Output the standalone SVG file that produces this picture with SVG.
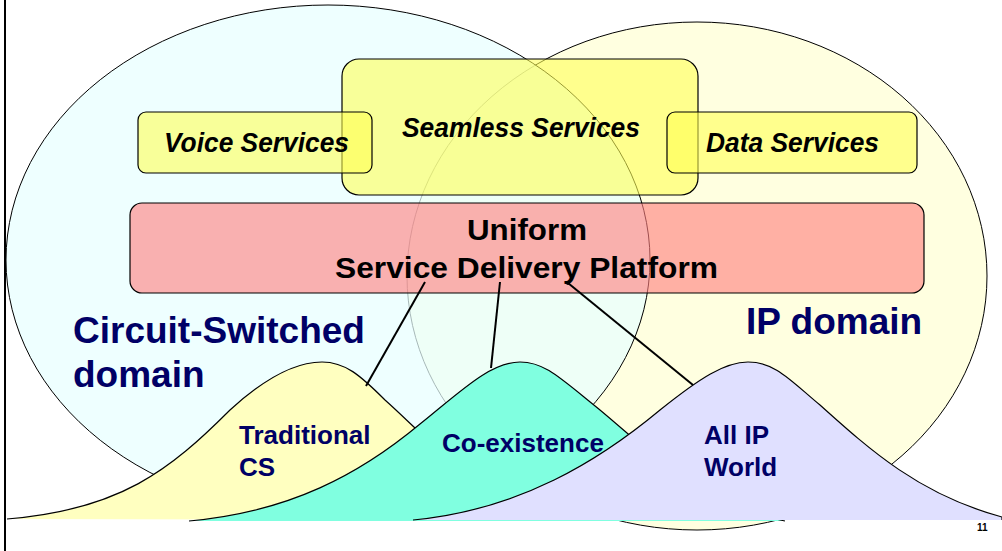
<svg xmlns="http://www.w3.org/2000/svg" width="1002" height="551" viewBox="0 0 1002 551">
  <style>
    .svc { fill: #FFFF55; fill-opacity: 0.6; stroke: #000; stroke-width: 1.2; }
    .svct { font-family: "Liberation Sans", Arial, sans-serif; font-size: 27.5px; font-weight: bold; font-style: italic; fill: #000; }
    .sdpt { font-family: "Liberation Sans", Arial, sans-serif; font-size: 29px; font-weight: bold; fill: #000; }
    .big { font-family: "Liberation Sans", Arial, sans-serif; font-size: 37px; font-weight: bold; fill: #000066; }
    .mt { font-family: "Liberation Sans", Arial, sans-serif; font-size: 26px; font-weight: bold; fill: #000066; }
    .mtn { stroke: #000; stroke-width: 1.2; }
    .conn { stroke: #000; stroke-width: 2; fill: none; }
  </style>
  <rect x="0" y="0" width="1002" height="551" fill="#FFFFFF"/>
  <line x1="5" y1="0" x2="5" y2="551" stroke="#000" stroke-width="2"/>

  <g id="ip-domain">
    <ellipse cx="697" cy="276" rx="290" ry="254" fill="#FFFFE0" stroke="#000" stroke-width="1"/>
    <text class="big" x="746" y="334">IP domain</text>
  </g>
  <g id="cs-domain">
    <ellipse cx="328" cy="260" rx="322" ry="255" fill="#E8FFFF" fill-opacity="0.72" stroke="#000" stroke-width="1"/>
    <text class="big" x="73" y="343">Circuit-Switched</text>
    <text class="big" x="73" y="387">domain</text>
  </g>

  <g id="seamless-services">
    <rect class="svc" x="342" y="59" width="356" height="136" rx="17" ry="17"/>
    <text class="svct" x="402" y="137" textLength="238" lengthAdjust="spacingAndGlyphs">Seamless Services</text>
  </g>
  <g id="voice-services">
    <rect class="svc" x="138" y="112" width="234" height="61" rx="8" ry="8"/>
    <text class="svct" x="164" y="152" textLength="185" lengthAdjust="spacingAndGlyphs">Voice Services</text>
  </g>
  <g id="data-services">
    <rect class="svc" x="667" y="112" width="250" height="61" rx="8" ry="8"/>
    <text class="svct" x="706" y="152" textLength="173" lengthAdjust="spacingAndGlyphs">Data Services</text>
  </g>

  <g id="sdp">
    <rect x="130" y="203" width="794" height="90" rx="12" ry="12" fill="#FF8080" fill-opacity="0.62" stroke="#000" stroke-width="1.2"/>
    <text class="sdpt" x="467" y="240" textLength="120" lengthAdjust="spacingAndGlyphs">Uniform</text>
    <text class="sdpt" x="335" y="278" textLength="383" lengthAdjust="spacingAndGlyphs">Service Delivery Platform</text>
  </g>

  <g id="traditional-cs">
    <path class="mtn" fill="#FFFFC0" d="M 7 519 C 120 510, 170 470, 230 410 C 265 378, 295 362, 322 362 C 345 362, 360 375, 385 400 C 430 440, 480 500, 560 520"/>
    <text class="mt" x="239" y="444">Traditional</text>
    <text class="mt" x="239" y="476">CS</text>
  </g>
  <g id="co-existence">
    <path class="mtn" fill="#80FFE0" d="M 189 521 C 290 512, 360 474, 420 424 C 460 392, 490 362, 520 362 C 545 362, 560 378, 600 410 C 660 460, 700 505, 785 521"/>
    <text class="mt" x="442" y="452">Co-existence</text>
  </g>
  <g id="all-ip-world">
    <path class="mtn" fill="#E0E0FF" d="M 413 520 C 520 510, 600 460, 660 410 C 700 378, 725 362, 748 362 C 775 362, 790 380, 820 405 C 870 450, 920 495, 1002 517 L 1002 520"/>
    <text class="mt" x="704" y="444">All IP</text>
    <text class="mt" x="704" y="476">World</text>
  </g>

  <g id="connectors">
    <line class="conn" x1="425" y1="282" x2="366" y2="386"/>
    <line class="conn" x1="500" y1="282" x2="491" y2="368"/>
    <line class="conn" x1="568" y1="283" x2="693" y2="385"/>
    <circle cx="568" cy="283" r="2" fill="#000"/>
  </g>

  <text x="977" y="531" font-family="Liberation Sans, Arial, sans-serif" font-size="10" font-weight="bold" fill="#000">11</text>
</svg>
